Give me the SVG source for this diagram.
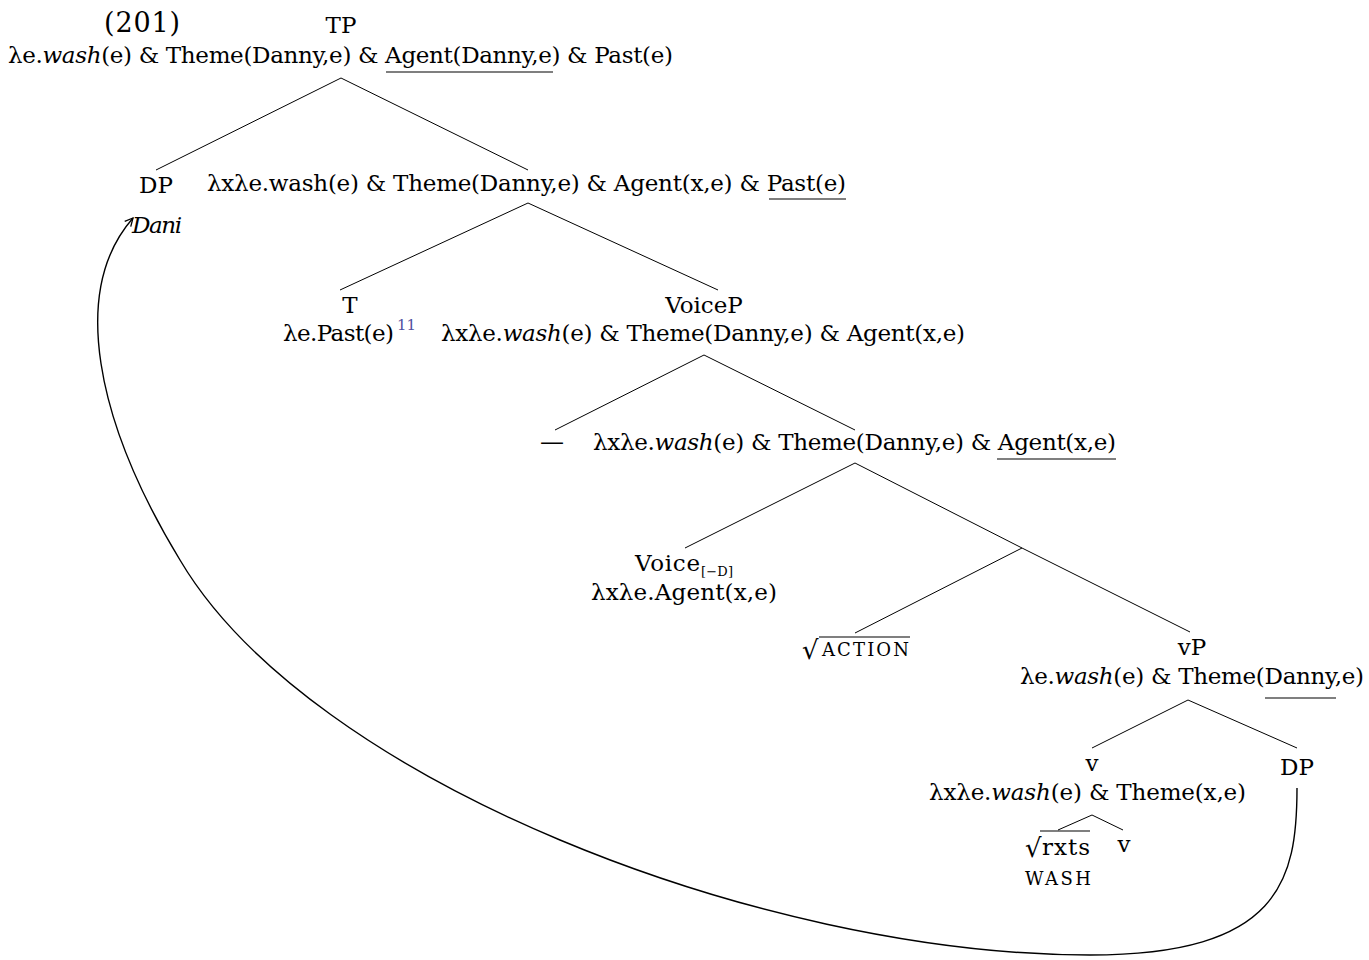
<svg xmlns="http://www.w3.org/2000/svg" width="1369" height="960" viewBox="0 0 1369 960">
<defs>
<style>
text{font-family:"DejaVu Serif","Liberation Serif",serif;font-size:23px;fill:#000}
.it{font-style:italic}
.m{text-anchor:middle}
.sc{font-size:18px}
.rad{font-size:26px}
.br line,.ul line{stroke:#000;stroke-width:1}
.ul line{stroke-width:1.2}
</style>
<marker id="ah" viewBox="0 0 10 10" refX="9" refY="5" markerWidth="10" markerHeight="10" markerUnits="userSpaceOnUse" orient="auto">
<path d="M1,1 L9,5 L1,9" fill="none" stroke="#000" stroke-width="1.3"/>
</marker>
</defs>
<rect width="1369" height="960" fill="#fff"/>
<text x="104" y="32" style="font-size:27px" textLength="76">(201)</text>
<g id="TP">
<text class="m" x="341" y="33">TP</text>
<text x="8" y="63" textLength="665">λe.<tspan class="it">wash</tspan>(e) &amp; Theme(Danny,e) &amp; Agent(Danny,e) &amp; Past(e)</text>
</g>
<g id="DP1">
<text class="m" x="156" y="193">DP</text>
<text class="it" x="132" y="233" textLength="50">Dani</text>
</g>
<g id="Tbar">
<text x="207" y="191" textLength="639">λxλe.wash(e) &amp; Theme(Danny,e) &amp; Agent(x,e) &amp; Past(e)</text>
</g>
<g id="T">
<text class="m" x="350" y="313">T</text>
<text x="283" y="341" textLength="111">λe.Past(e)</text>
<text x="397" y="330" style="font-size:15px;fill:#5050a0">11</text>
</g>
<g id="VoiceP">
<text class="m" x="704" y="313">VoiceP</text>
<text x="441" y="341" textLength="524">λxλe.<tspan class="it">wash</tspan>(e) &amp; Theme(Danny,e) &amp; Agent(x,e)</text>
</g>
<g id="gap">
<text x="540" y="450" style="font-size:24px" textLength="26">—</text>
</g>
<g id="Voicebar">
<text x="593" y="450" textLength="523">λxλe.<tspan class="it">wash</tspan>(e) &amp; Theme(Danny,e) &amp; Agent(x,e)</text>
</g>
<g id="Voice">
<text x="635" y="571" textLength="65">Voice</text>
<text x="701" y="576" style="font-size:13px" textLength="32">[−D]</text>
<text x="591" y="600" textLength="186">λxλe.Agent(x,e)</text>
</g>
<g id="ACTION">
<text class="rad" x="802" y="659">√</text>
<text class="sc" x="822" y="656" textLength="87">ACTION</text>
</g>
<g id="vP">
<text class="m" x="1192" y="655">vP</text>
<text x="1020" y="684" textLength="344">λe.<tspan class="it">wash</tspan>(e) &amp; Theme(Danny,e)</text>
</g>
<g id="v">
<text class="m" x="1092" y="771">v</text>
<text x="929" y="800" textLength="317">λxλe.<tspan class="it">wash</tspan>(e) &amp; Theme(x,e)</text>
</g>
<g id="DP2">
<text class="m" x="1297" y="775">DP</text>
</g>
<g id="rxts">
<text class="rad" x="1025" y="857">√</text>
<text x="1042" y="855" textLength="48">rxts</text>
<text class="sc" x="1025" y="885" textLength="66">WASH</text>
</g>
<g id="v2">
<text class="m" x="1124" y="852">v</text>
</g>
<g class="ul" id="underlines">
<line x1="386" y1="72" x2="553" y2="72"/>
<line x1="769" y1="199" x2="846" y2="199"/>
<line x1="997" y1="459" x2="1116" y2="459"/>
<line x1="1265" y1="698" x2="1336" y2="698"/>
<line x1="819" y1="637" x2="910" y2="637"/>
<line x1="1040" y1="831" x2="1090" y2="831"/>
</g>
<g class="br" id="connectors">
<line x1="341" y1="78" x2="156" y2="170"/>
<line x1="341" y1="78" x2="528" y2="170"/>
<line x1="528" y1="203" x2="340" y2="290"/>
<line x1="528" y1="203" x2="718" y2="290"/>
<line x1="704" y1="355" x2="555" y2="430"/>
<line x1="704" y1="355" x2="855" y2="430"/>
<line x1="855" y1="463" x2="685" y2="548"/>
<line x1="855" y1="463" x2="1022" y2="548"/>
<line x1="1022" y1="548" x2="1190" y2="632"/>
<line x1="1022" y1="548" x2="855" y2="633"/>
<line x1="1188" y1="700" x2="1092" y2="748"/>
<line x1="1188" y1="700" x2="1297" y2="748"/>
<line x1="1092" y1="815" x2="1058" y2="830"/>
<line x1="1092" y1="815" x2="1123" y2="830"/>
<path d="M1297,788 C1297,880 1280,955 1090,955 C760,955 310,780 180,560 C95,420 70,290 133,218" fill="none" stroke="#000" stroke-width="1.4" marker-end="url(#ah)"/>
</g>
</svg>
